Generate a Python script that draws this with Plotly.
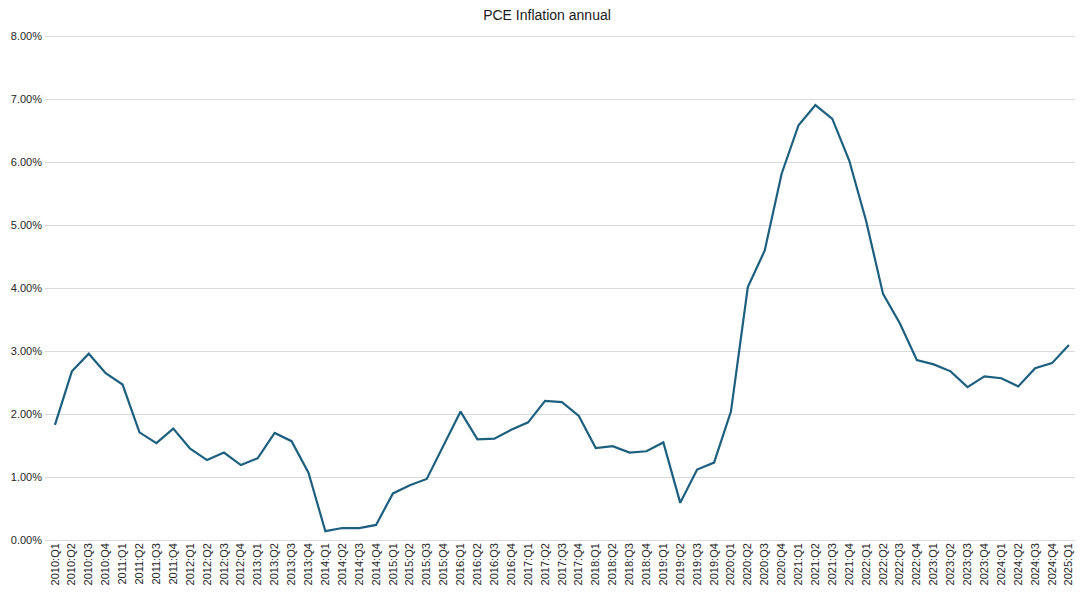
import plotly.graph_objects as go

quarters = [f"{y}:Q{q}" for y in range(2010, 2025) for q in range(1, 5)] + ["2025:Q1"]

pce_inflation = [
    1.83, 2.68, 2.96, 2.65,
    2.47, 1.71, 1.54, 1.77,
    1.45, 1.27, 1.39, 1.19,
    1.30, 1.70, 1.57, 1.07,
    0.14, 0.19, 0.19, 0.24,
    0.74, 0.87, 0.97, 1.51,
    2.04, 1.60, 1.61, 1.75,
    1.87, 2.21, 2.19, 1.97,
    1.46, 1.49, 1.39, 1.41,
    1.55, 0.59, 1.12, 1.23,
    2.04, 4.02, 4.60, 5.82,
    6.59, 6.91, 6.69, 6.03,
    5.07, 3.91, 3.44, 2.86,
    2.79, 2.68, 2.43, 2.60,
    2.57, 2.44, 2.73, 2.81,
    3.10,
]

fig = go.Figure()
fig.add_trace(go.Scatter(
    x=quarters,
    y=pce_inflation,
    mode="lines",
    line=dict(color="#1c5f7e", width=2.2),
    hovertemplate="%{x}: %{y:.2f}%<extra></extra>",
))

# the page body has an 8px margin, so the figure is sized to fit the window
# y range goes a touch past 8 so the top gridline is still drawn
fig.update_layout(
    title=dict(text="PCE Inflation annual", x=0.5, xanchor="center", y=0.988, yanchor="middle",
               font=dict(family="Liberation Sans, Arial", size=14, color="#1a1a1a")),
    width=1078,
    height=587,
    margin=dict(l=37, r=11, t=26, b=55),
    paper_bgcolor="white",
    plot_bgcolor="white",
    showlegend=False,
    font=dict(family="Liberation Sans, Arial", size=11, color="#262626"),
    xaxis=dict(
        type="category",
        range=[-0.59, 60.36],
        tickangle=-90,
        showgrid=False,
        showline=False,
        ticks="",
        automargin=False,
        tickfont=dict(size=11),
    ),
    yaxis=dict(
        range=[0, 8.04],
        tickmode="linear",
        tick0=0,
        dtick=1,
        tickformat=".2f",
        ticksuffix="%",
        showgrid=True,
        gridcolor="#d9d9d9",
        gridwidth=1,
        zeroline=True,
        zerolinecolor="#d9d9d9",
        zerolinewidth=1,
        ticks="",
        ticklabelstandoff=2,
        automargin=False,
        tickfont=dict(size=11),
    ),
)

fig.write_html("out.html")
